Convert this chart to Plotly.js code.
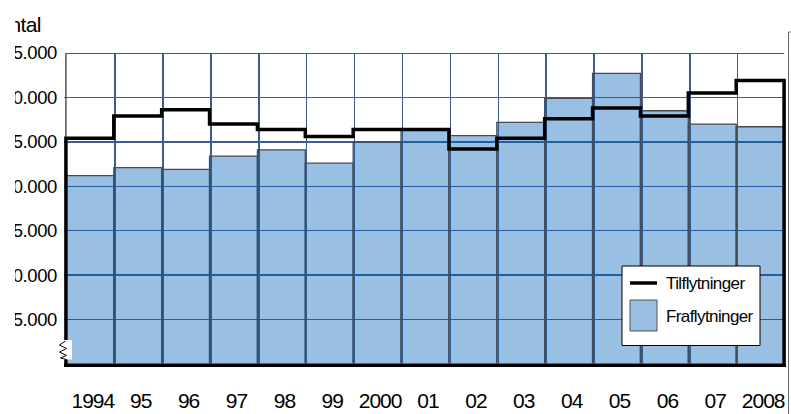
<!DOCTYPE html>
<html>
<head>
<meta charset="utf-8">
<script src="https://cdn.plot.ly/plotly-3.0.1.min.js"></script>
<style>
  html, body { margin: 0; padding: 0; background: #fff; }
  #plot { position: absolute; left: 0; top: 0; width: 791px; height: 414px; clip-path: inset(0 0 0 15px); }
  .xtick text { letter-spacing: -1px; }
  .ytick text { letter-spacing: -0.4px; }
  .annotation-text { letter-spacing: -0.6px; }
</style>
</head>
<body>
<div id="plot"></div>
<script>
// ---- data ----
const years = ['1994','95','96','97','98','99','2000','01','02','03','04','05','06','07','2008'];
const tilflytninger = [25400, 27900, 28600, 27000, 26400, 25600, 26400, 26400, 24200, 25400, 27600, 28800, 27900, 30500, 31900];
const fraflytninger = [21200, 22100, 21900, 23400, 24100, 22600, 25000, 26300, 25700, 27200, 29900, 32700, 28500, 27000, 26700];
const yTickVals = [5000, 10000, 15000, 20000, 25000, 30000, 35000];
const yTickText = ['5.000', '10.000', '15.000', '20.000', '25.000', '30.000', '35.000'];
const yTitle = 'Antal';
const nameTil = 'Tilflytninger';
const nameFra = 'Fraflytninger';

// ---- geometry helpers (pixel -> paper) ----
const W = 791, H = 414;
const M = { l: 64, r: 5, t: 53, b: 50 };
const PW = W - M.l - M.r, PH = H - M.t - M.b;
const px = x => (x - M.l) / PW;
const py = y => (H - M.b - y) / PH;

const idx = years.map((_, i) => i);
const n = years.length;

// step outline for Tilflytninger (histogram-like outline)
const stepX = [-0.5];
const stepY = [0];
tilflytninger.forEach((v, i) => { stepX.push(i - 0.5); stepY.push(v); });
stepX.push(n - 0.5); stepY.push(tilflytninger[n - 1]);
stepX.push(n - 0.5); stepY.push(0);

// vertical grid lines sit just right of each category boundary
const boundaries = [];
for (let i = 0; i < n - 1; i++) boundaries.push(i + 0.53);

const gridColor = 'rgb(62,92,148)';

const traces = [
  {
    type: 'bar', name: nameFra, x: idx, y: fraflytninger, width: 1,
    marker: { color: 'rgba(0,95,185,0.4)', line: { color: '#4a4a4a', width: 1.3 } },
    hoverinfo: 'skip'
  },
  {
    type: 'scatter', mode: 'lines', name: nameTil, x: stepX, y: stepY,
    line: { shape: 'hv', color: '#000000', width: 3.5 },
    hoverinfo: 'skip'
  }
];

const FONT = 'Liberation Sans, Arial, sans-serif';

const shapes = [
  // left border (gray) below traces
  { type: 'line', xref: 'x', yref: 'y', x0: -0.5, x1: -0.5, y0: 0, y1: 35000, layer: 'between',
    line: { color: '#555555', width: 1.5 } },
  // top border
  { type: 'line', xref: 'x', yref: 'y', x0: -0.5, x1: n - 0.5, y0: 35000, y1: 35000, layer: 'above',
    line: { color: '#555555', width: 2 } },
  // outer frame line at right
  { type: 'line', xref: 'paper', yref: 'paper', x0: px(788.5), x1: px(788.5), y0: py(32), y1: py(420), layer: 'above',
    line: { color: '#666666', width: 1 } },
  { type: 'line', xref: 'paper', yref: 'paper', x0: px(788.5), x1: px(792), y0: py(32), y1: py(32), layer: 'above',
    line: { color: '#666666', width: 1 } },
  // axis break symbol
  { type: 'rect', xref: 'paper', yref: 'paper', x0: px(58.5), x1: px(72), y0: py(340), y1: py(359.5), layer: 'above',
    fillcolor: '#ffffff', line: { width: 0 } },
  { type: 'path', xref: 'paper', yref: 'paper', layer: 'above',
    path: `M ${px(65.5)} ${py(341)} L ${px(59.5)} ${py(345)} L ${px(66.5)} ${py(348.5)} L ${px(59.5)} ${py(352)} L ${px(66.5)} ${py(355.5)} L ${px(60.5)} ${py(358)} L ${px(66.5)} ${py(359.5)}`,
    line: { color: '#000000', width: 1 } },
  // legend box
  { type: 'rect', xref: 'paper', yref: 'paper', x0: px(622), x1: px(760), y0: py(266), y1: py(345.5), layer: 'above',
    fillcolor: '#ffffff', line: { color: '#000000', width: 1 } },
  { type: 'line', xref: 'paper', yref: 'paper', x0: px(630), x1: px(657), y0: py(283), y1: py(283), layer: 'above',
    line: { color: '#000000', width: 3.5 } },
  { type: 'rect', xref: 'paper', yref: 'paper', x0: px(630), x1: px(657), y0: py(300), y1: py(331), layer: 'above',
    fillcolor: '#99bfe3', line: { color: '#555555', width: 1 } }
];

const annotations = [
  { xref: 'paper', yref: 'paper', x: px(43), y: py(24), xanchor: 'right', yanchor: 'middle', showarrow: false,
    text: yTitle, font: { family: FONT, size: 21, color: '#000' } },
  { xref: 'paper', yref: 'paper', x: px(664), y: py(283), xanchor: 'left', yanchor: 'middle', showarrow: false,
    text: nameTil, font: { family: FONT, size: 17, color: '#000' } },
  { xref: 'paper', yref: 'paper', x: px(664), y: py(316), xanchor: 'left', yanchor: 'middle', showarrow: false,
    text: nameFra, font: { family: FONT, size: 17, color: '#000' } }
];

const layout = {
  width: W, height: H,
  margin: { l: M.l, r: M.r, t: M.t, b: M.b, pad: 0 },
  paper_bgcolor: '#ffffff', plot_bgcolor: '#ffffff',
  showlegend: false,
  bargap: 0,
  xaxis: {
    range: [-0.54, n - 0.46],
    tickmode: 'array', tickvals: idx, ticktext: years,
    showgrid: false, zeroline: false,
    showline: true, linecolor: '#000000', linewidth: 3,
    ticks: '', ticklabelstandoff: 16, ticklabelshift: 3,
    tickfont: { family: FONT, size: 21, color: '#000' },
    minor: { tickmode: 'array', tickvals: boundaries, showgrid: true, gridcolor: gridColor, gridwidth: 1.5, ticks: '' },
    fixedrange: true
  },
  yaxis: {
    range: [0, 35000],
    tickmode: 'array', tickvals: yTickVals, ticktext: yTickText,
    showgrid: true, gridcolor: gridColor, gridwidth: 1.5,
    zeroline: false, showline: false,
    ticks: '', ticklabelstandoff: 6,
    tickfont: { family: FONT, size: 18.5, color: '#000' },
    fixedrange: true
  },
  shapes: shapes,
  annotations: annotations
};

Plotly.newPlot('plot', traces, layout, { staticPlot: true, displayModeBar: false });
</script>
</body>
</html>
